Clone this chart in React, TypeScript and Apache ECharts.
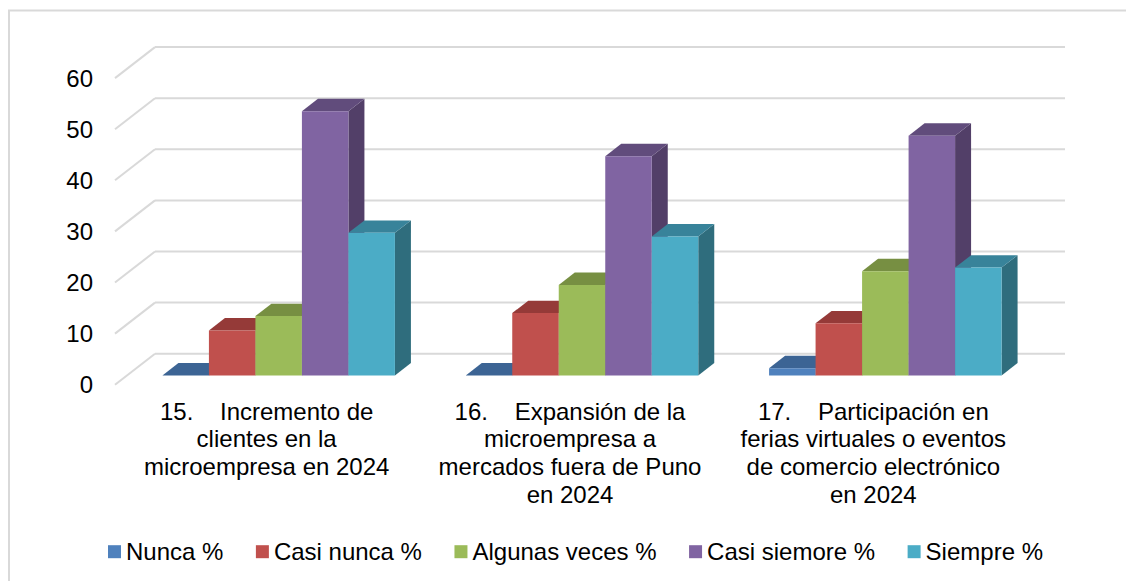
import React, { useEffect, useRef } from "react";
import * as echarts from "echarts";

const categories = [
  "15.\u00a0\u00a0\u00a0\u00a0Incremento de\nclientes en la\nmicroempresa en 2024",
  "16.\u00a0\u00a0\u00a0\u00a0Expansión de la\nmicroempresa a\nmercados fuera de Puno\nen 2024",
  "17.\u00a0\u00a0\u00a0\u00a0Participación en\nferias virtuales o eventos\nde comercio electrónico\nen 2024",
];
const seriesNames = ["Nunca %", "Casi nunca %", "Algunas veces %", "Casi siemore %", "Siempre %"];
const nunca = [0, 0, 1.4];
const casiNunca = [8.8, 12.2, 10.2];
const algunasVeces = [11.6, 17.7, 20.4];
const casiSiempre = [51.7, 42.9, 46.9];
const siempre = [27.9, 27.2, 21.1];
const seriesValues = [nunca, casiNunca, algunasVeces, casiSiempre, siempre];
const yTicks = [0, 10, 20, 30, 40, 50, 60];

const frontColors = ["#4F81BD", "#C0504D", "#9BBB59", "#8064A2", "#4BACC6"];
const topColors = ["#3C6494", "#953A38", "#778F42", "#614C7C", "#38839A"];
const sideColors = ["#335580", "#7F302F", "#657A37", "#523F68", "#2F6D7D"];

const WALL_DX = 40;
const WALL_DY = -31;
const BAR_FRAC = 0.1533;
const FONT = "Liberation Sans, Arial, sans-serif";

export default function App() {
  const ref = useRef<HTMLDivElement>(null);
  useEffect(() => {
    if (!ref.current) return;
    const chart = echarts.init(ref.current, undefined, { renderer: "svg" });
    const grid = { left: 107, top: 70.1, width: 910, height: 306.6 };

    const wallSeries: any = {
      type: "custom",
      name: "walls",
      silent: true,
      z: 1,
      data: yTicks.map((v) => [0, v]),
      encode: { x: 0, y: 1 },
      renderItem: (params: any, api: any) => {
        const cs = params.coordSys;
        const y = api.coord([0, api.value(1)])[1];
        const x0 = cs.x;
        const x1 = cs.x + cs.width;
        const style = { stroke: "#d9d9d9", lineWidth: 2, fill: null };
        return {
          type: "group",
          children: [
            { type: "line", shape: { x1: x0, y1: y, x2: x0 + WALL_DX, y2: y + WALL_DY }, style },
            { type: "line", shape: { x1: x0 + WALL_DX, y1: y + WALL_DY, x2: x1 + WALL_DX, y2: y + WALL_DY }, style },
          ],
        };
      },
    };

    const barSeries = seriesNames.map((name, s) => ({
      type: "custom",
      name,
      z: 2,
      itemStyle: { color: frontColors[s] },
      data: seriesValues[s].map((v, i) => [i, v]),
      encode: { x: 0, y: 1 },
      renderItem: (params: any, api: any) => {
        const ci = api.value(0);
        const val = api.value(1);
        const c = api.coord([ci, val]);
        const b = api.coord([ci, 0]);
        const band = api.size([1, 0])[0];
        const bw = band * BAR_FRAC;
        const offX = WALL_DX * 0.3;
        const offY = WALL_DY * 0.3;
        const dx = WALL_DX * 0.4;
        const dy = WALL_DY * 0.4;
        const left = c[0] - 2.5 * bw + s * bw + offX;
        const right = left + bw;
        const top = c[1] + offY;
        const bottom = b[1] + offY;
        return {
          type: "group",
          children: [
            {
              type: "polygon",
              shape: { points: [[right, top], [right + dx, top + dy], [right + dx, bottom + dy], [right, bottom]] },
              style: { fill: sideColors[s] },
            },
            {
              type: "polygon",
              shape: { points: [[left, top], [left + dx, top + dy], [right + dx, top + dy], [right, top]] },
              style: { fill: topColors[s] },
            },
            {
              type: "rect",
              shape: { x: left, y: top, width: bw, height: Math.max(bottom - top, 0) },
              style: { fill: frontColors[s] },
            },
          ],
        };
      },
    }));

    chart.setOption({
      animation: false,
      backgroundColor: "#ffffff",
      textStyle: { fontFamily: FONT },
      graphic: [
        {
          type: "rect",
          silent: true,
          shape: { x: 1, y: 2.5, width: 3000, height: 3000 },
          style: { fill: null, stroke: "#d9d9d9", lineWidth: 2 },
        },
      ],
      grid,
      legend: {
        data: seriesNames,
        left: 100,
        top: 531.7,
        padding: 0,
        icon: "rect",
        itemWidth: 13,
        itemHeight: 13,
        itemGap: 32.5,
        textStyle: { fontSize: 24, color: "#000", fontFamily: FONT },
      },
      xAxis: {
        type: "category",
        data: categories,
        axisLine: { show: false },
        axisTick: { show: false },
        axisLabel: {
          interval: 0,
          margin: 12.5,
          fontSize: 24,
          lineHeight: 27.7,
          color: "#000",
          align: "center",
          fontFamily: FONT,
        },
      },
      yAxis: {
        type: "value",
        min: 0,
        max: 60,
        interval: 10,
        axisLine: { show: false },
        axisTick: { show: false },
        splitLine: { show: false },
        axisLabel: { margin: 22, fontSize: 24, color: "#000", fontFamily: FONT },
      },
      series: [wallSeries, ...barSeries],
    });
    return () => chart.dispose();
  }, []);
  return (
    <div
      ref={ref}
      style={{ position: "fixed", left: 8, top: 8, width: 1118, height: 573, overflow: "hidden" }}
    />
  );
}
